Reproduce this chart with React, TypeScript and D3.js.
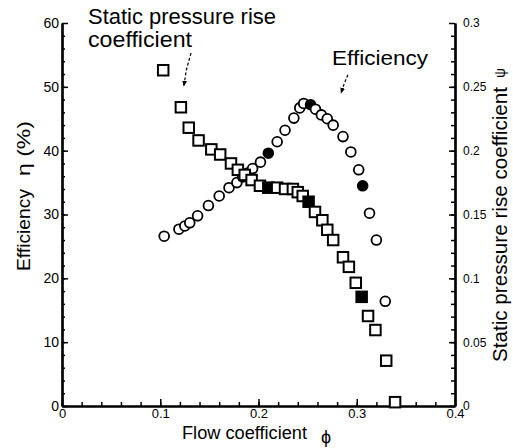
import React, { useRef, useEffect } from "react";
import { select, scaleLinear, axisBottom, axisLeft, axisRight, range, line } from "d3";

// efficiency points: flow coefficient, efficiency (%), filled marker?
const effPhi = [0.104, 0.119, 0.125, 0.130, 0.138, 0.149, 0.160, 0.170, 0.178, 0.184, 0.189, 0.194, 0.202, 0.210, 0.219, 0.227, 0.236, 0.242, 0.246, 0.253, 0.258, 0.264, 0.270, 0.276, 0.286, 0.294, 0.302, 0.306, 0.313, 0.320, 0.329];
const effVal = [26.6, 27.7, 28.2, 28.7, 29.8, 31.4, 32.9, 34.2, 35.0, 35.9, 36.5, 37.2, 38.2, 39.6, 41.4, 43.2, 45.1, 46.7, 47.4, 47.2, 46.5, 45.6, 45.0, 44.0, 42.2, 39.8, 37.0, 34.5, 30.2, 26.0, 16.4];
const effFilled = [0.210, 0.253, 0.306];

// static pressure rise coefficient points
const psiPhi = [0.103, 0.121, 0.129, 0.139, 0.152, 0.161, 0.172, 0.179, 0.186, 0.193, 0.2015, 0.210, 0.219, 0.227, 0.235, 0.240, 0.245, 0.251, 0.2575, 0.265, 0.270, 0.276, 0.286, 0.292, 0.299, 0.305, 0.3115, 0.319, 0.330, 0.339];
const psiVal = [0.263, 0.234, 0.218, 0.208, 0.201, 0.197, 0.190, 0.185, 0.181, 0.177, 0.1725, 0.171, 0.171, 0.170, 0.170, 0.1675, 0.1645, 0.160, 0.152, 0.1455, 0.138, 0.130, 0.1165, 0.109, 0.0965, 0.0855, 0.0705, 0.0595, 0.0355, 0.003];
const psiFilled = [0.210, 0.251, 0.305];

const xTicks = [0, 0.1, 0.2, 0.3, 0.4];
const yLeftTicks = [0, 10, 20, 30, 40, 50, 60];
const yRightTicks = [0, 0.05, 0.1, 0.15, 0.2, 0.25, 0.3];

const W = 513;
const H = 448;
const FONT = "'Liberation Sans', Arial, sans-serif";

const App = () => {
    const svgRef = useRef(null);

    useEffect(() => {
        const svg = select(svgRef.current);
        svg.selectAll("*").remove();

        const x = scaleLinear().domain([0, 0.4]).range([62, 455]);
        const yL = scaleLinear().domain([0, 60]).range([406, 23]);
        const yR = scaleLinear().domain([0, 0.3]).range([406, 23]);

        svg.append("defs").append("marker")
            .attr("id", "arr").attr("viewBox", "0 0 10 10")
            .attr("refX", 9).attr("refY", 5)
            .attr("markerWidth", 5).attr("markerHeight", 7)
            .attr("orient", "auto")
            .append("path").attr("d", "M0,1 L10,5 L0,9 z").attr("fill", "#000");

        // minor ticks
        svg.append("g").attr("transform", "translate(0,406)")
            .call(axisBottom(x).tickValues(range(0, 0.4, 0.02)).tickSize(-4).tickSizeOuter(0).tickFormat(() => ""));
        svg.append("g").attr("transform", "translate(62,0)")
            .call(axisLeft(yL).tickValues(range(0, 60, 2)).tickSize(-3).tickSizeOuter(0).tickFormat(() => ""));
        svg.append("g").attr("transform", "translate(455,0)")
            .call(axisRight(yR).tickValues(range(0, 0.3, 0.01)).tickSize(-4).tickSizeOuter(0).tickFormat(() => ""));

        // major ticks + labels
        const gx = svg.append("g").attr("transform", "translate(0,406)")
            .call(axisBottom(x).tickValues(xTicks).tickSize(-7).tickSizeOuter(0).tickPadding(3).tickFormat((d) => String(d)));
        gx.selectAll("text").attr("font-size", 13);

        const gl = svg.append("g").attr("transform", "translate(62,0)")
            .call(axisLeft(yL).tickValues(yLeftTicks).tickSize(-6).tickSizeOuter(0).tickPadding(3).tickFormat((d) => String(d)));
        gl.selectAll("text").attr("font-size", 14);

        const gr = svg.append("g").attr("transform", "translate(455,0)")
            .call(axisRight(yR).tickValues(yRightTicks).tickSize(-6).tickSizeOuter(0).tickPadding(8).tickFormat((d) => String(d)));
        gr.selectAll("text").attr("font-size", 12);

        svg.selectAll(".domain").attr("stroke-width", 2.2);
        svg.selectAll(".tick line").attr("stroke-width", 1.5);
        svg.selectAll(".tick text").attr("font-family", FONT).attr("fill", "#000");

        // efficiency circles
        svg.selectAll(".eff")
            .data(effPhi)
            .enter()
            .append("circle")
            .attr("class", "eff")
            .attr("cx", (d) => x(d))
            .attr("cy", (d, i) => yL(effVal[i]))
            .attr("r", 4.9)
            .attr("fill", (d) => effFilled.includes(d) ? "#000" : "#fff")
            .attr("stroke", "#000")
            .attr("stroke-width", 1.8);

        // static pressure squares
        const s = 10.5;
        svg.selectAll(".psi")
            .data(psiPhi)
            .enter()
            .append("rect")
            .attr("class", "psi")
            .attr("x", (d) => x(d) - s / 2)
            .attr("y", (d, i) => yR(psiVal[i]) - s / 2)
            .attr("width", s).attr("height", s)
            .attr("fill", (d) => psiFilled.includes(d) ? "#000" : "#fff")
            .attr("stroke", "#000")
            .attr("stroke-width", 2);

        // annotation arrows (in data units)
        const arrowLine = line().x((d) => x(d[0])).y((d) => yL(d[1]));
        const arrows = [
            [[0.1313, 55.3], [0.1265, 52.6], [0.124, 50.1]],
            [[0.291, 51.9], [0.287, 50.4], [0.284, 49.0]]
        ];
        svg.selectAll(".arrow")
            .data(arrows)
            .enter()
            .append("path")
            .attr("class", "arrow")
            .attr("d", (d) => arrowLine(d))
            .attr("fill", "none")
            .attr("stroke", "#000")
            .attr("stroke-width", 1.2)
            .attr("stroke-dasharray", "3,2")
            .attr("marker-end", "url(#arr)");

        const txt = (tx, ty, str, size, len, rot) => {
            const t = svg.append("text")
                .attr("font-family", FONT)
                .attr("font-size", size)
                .attr("fill", "#000")
                .text(str);
            if (rot) {
                t.attr("transform", "translate(" + tx + "," + ty + ") rotate(-90)");
            } else {
                t.attr("x", tx).attr("y", ty);
            }
            if (len) t.attr("textLength", len).attr("lengthAdjust", "spacingAndGlyphs");
            return t;
        };

        txt(88, 24, "Static pressure rise", 22, 188, false);
        txt(88, 47, "coefficient", 22, 104, false);
        txt(332, 65, "Efficiency", 21, 96, false);

        txt(182, 439, "Flow coefficient", 18, 125, false);
        txt(321, 443, "ϕ", 18, null, false);

        txt(30, 271, "Efficiency", 18, 82, true);
        txt(30, 176, "η (%)", 18, 55, true);

        txt(507, 362, "Static pressure rise coefficient", 21, 275, true);
        txt(505, 78, "ψ", 14, null, true);
    }, []);

    return (
        <div className="chart">
            <svg ref={svgRef} width={W} height={H} style={{ position: "absolute", left: 0, top: 0, background: "#fff" }}>
            </svg>
        </div>
    );
};

export default App;
